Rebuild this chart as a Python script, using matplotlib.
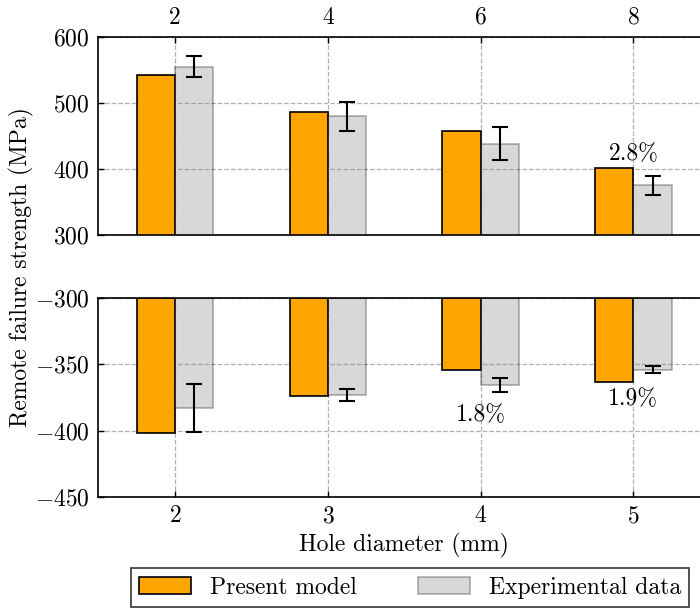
import matplotlib
matplotlib.use("Agg")
import matplotlib.pyplot as plt
import numpy as np

plt.rcParams['font.family'] = 'serif'
plt.rcParams['font.serif'] = ['cmr10']
plt.rcParams['mathtext.fontset'] = 'cm'
plt.rcParams['axes.formatter.use_mathtext'] = True
plt.rcParams['axes.unicode_minus'] = True

# data
positions = [2, 3, 4, 5]
top_labels = ['2', '4', '6', '8']
tension_model = [543, 487, 457, 401]
tension_exp = [555, 480, 438, 375]
tension_err = [16, 22, 25, 15]
compr_model = [-402, -374, -354, -363]
compr_exp = [-383, -373, -365.5, -354]
compr_err = [18, 4.5, 5, 2.5]

w = 0.25
x = np.array(positions)

fig = plt.figure(figsize=(7.0, 6.1), dpi=100)
ax1 = fig.add_axes([0.14, 0.6148, 0.874, 0.3245])
ax2 = fig.add_axes([0.14, 0.1852, 0.874, 0.3263])

fs = 17

# top panel (tension)
ax1.bar(x - w/2, tension_model, w, color='orange', edgecolor='black',
        linewidth=1.2, zorder=2, label='Present model')
ax1.bar(x + w/2, tension_exp, w, color='gray', edgecolor='black', alpha=0.3,
        linewidth=1.2, zorder=2, label='Experimental data')
ax1.errorbar(x + w/2, tension_exp, yerr=tension_err, fmt='none', ecolor='black',
             elinewidth=1.5, capsize=6, capthick=1.5, zorder=3)
ax1.set_ylim(300, 600)
ax1.set_yticks([300, 400, 500, 600])
ax1.set_xlim(1.495, 5.5)
ax1.set_xticks(positions)
ax1.set_xticklabels(top_labels)
ax1.xaxis.tick_top()
ax1.grid(True, linestyle='--', color='#b0b0b0', linewidth=0.9, zorder=0)
ax1.set_axisbelow(True)
ax1.text(5, 422, r'2.8%', ha='center', va='center', fontsize=fs)

# bottom panel (compression)
ax2.bar(x - w/2, np.array(compr_model) + 300, w, bottom=-300, color='orange',
        edgecolor='black', linewidth=1.2, zorder=2)
ax2.bar(x + w/2, np.array(compr_exp) + 300, w, bottom=-300, color='gray',
        edgecolor='black', alpha=0.3, linewidth=1.2, zorder=2)
ax2.errorbar(x + w/2, compr_exp, yerr=compr_err, fmt='none', ecolor='black',
             elinewidth=1.5, capsize=6, capthick=1.5, zorder=3)
ax2.set_ylim(-450, -300)
ax2.set_yticks([-450, -400, -350, -300])
ax2.set_xlim(1.495, 5.5)
ax2.set_xticks(positions)
ax2.grid(True, linestyle='--', color='#b0b0b0', linewidth=0.9, zorder=0)
ax2.set_axisbelow(True)
ax2.text(4, -388.5, r'1.8%', ha='center', va='center', fontsize=fs)
ax2.text(5, -376, r'1.9%', ha='center', va='center', fontsize=fs)
ax2.set_xlabel('Hole diameter (mm)', fontsize=fs, labelpad=4)

for ax in (ax1, ax2):
    ax.tick_params(labelsize=fs, direction='in', length=4.5, width=1.0, pad=6)
    for s in ax.spines.values():
        s.set_linewidth(1.2)

fig.text(0.03, (0.9393 + 0.1852) / 2, 'Remote failure strength (MPa)',
         rotation=90, ha='center', va='center', fontsize=fs)

h, l = ax1.get_legend_handles_labels()
leg = fig.legend(h, l, loc='center', bbox_to_anchor=(0.586, 0.0365), ncol=2,
                 fontsize=fs, frameon=True, fancybox=False, edgecolor='black',
                 handlelength=2.2, columnspacing=2.6, borderpad=0.35)
leg.get_frame().set_linewidth(1.2)

fig.savefig('out.png', dpi=100)
